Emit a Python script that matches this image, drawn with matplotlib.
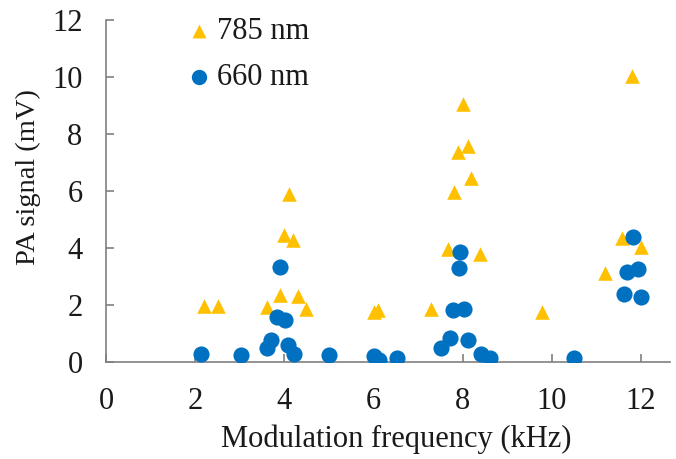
import matplotlib.pyplot as plt

# 785 nm (triangles)
f785 = [2.2, 2.5, 3.6, 3.9, 3.98, 4.1, 4.2, 4.31, 4.48, 6.0, 6.1, 7.3, 7.68, 7.8,
        7.9, 8.01, 8.11, 8.18, 8.39, 9.79, 11.2, 11.58, 11.81, 11.99]
v785 = [1.96, 1.96, 1.94, 2.35, 4.45, 5.91, 4.27, 2.31, 1.85, 1.75, 1.82, 1.88, 3.98, 5.97,
        7.37, 9.06, 7.57, 6.47, 3.78, 1.76, 3.14, 4.37, 10.05, 4.04]

# 660 nm (circles)
f660 = [2.12, 3.02, 3.6, 3.71, 3.83, 3.9, 4.01, 4.09, 4.22, 5.0, 6.0, 6.13, 6.53, 7.51,
        7.71, 7.79, 7.91, 7.94, 8.03, 8.12, 8.41, 8.62, 10.49, 11.61, 11.69, 11.82, 11.94, 12.0]
v660 = [0.28, 0.25, 0.48, 0.77, 1.59, 3.34, 1.47, 0.60, 0.28, 0.25, 0.21, 0.09, 0.13, 0.48,
        0.86, 1.82, 3.31, 3.86, 1.87, 0.77, 0.28, 0.13, 0.15, 2.38, 3.16, 4.39, 3.26, 2.27]

xticks = [0, 2, 4, 6, 8, 10, 12]
yticks = [0, 2, 4, 6, 8, 10, 12]

plt.rcParams['font.family'] = 'Liberation Serif'
plt.rcParams['font.size'] = 22

fig = plt.figure(figsize=(6.76, 4.59), dpi=100)
ax = fig.add_axes([0.157, 0.211, 0.834, 0.745])

ax.scatter(f785, v785, marker='^', s=110, color='#FFC000', linewidths=0,
           label='785 nm', zorder=3)
ax.scatter(f660, v660, marker='o', s=135, color='#0070C0', linewidths=0,
           label='660 nm', zorder=4)

ax.set_xlim(0, 12.65)
ax.set_ylim(0, 12)
ax.set_xticks(xticks)
ax.set_yticks(yticks)
for s in ['top', 'right']:
    ax.spines[s].set_visible(False)
for s in ['left', 'bottom']:
    ax.spines[s].set_color('#808080')
    ax.spines[s].set_linewidth(1.2)
ax.tick_params(direction='in', length=6, width=1.2, color='#808080',
               labelcolor='#1a1a1a')
ax.tick_params(axis='y', pad=17)
ax.tick_params(axis='x', pad=18)

ax.set_xlabel('Modulation frequency (kHz)', color='#1a1a1a')
ax.set_ylabel('PA signal (mV)', color='#1a1a1a', fontsize=20.5)
ax.xaxis.set_label_coords(0.514, -0.183)
ax.yaxis.set_label_coords(-0.115, 0.54)

ax.legend(loc='upper left', bbox_to_anchor=(0.088, 1.09), frameon=False,
          markerscale=0.95, handletextpad=0.1, handlelength=1.0,
          labelspacing=0.55, labelcolor='#1a1a1a')

fig.savefig('out.png', dpi=100)
